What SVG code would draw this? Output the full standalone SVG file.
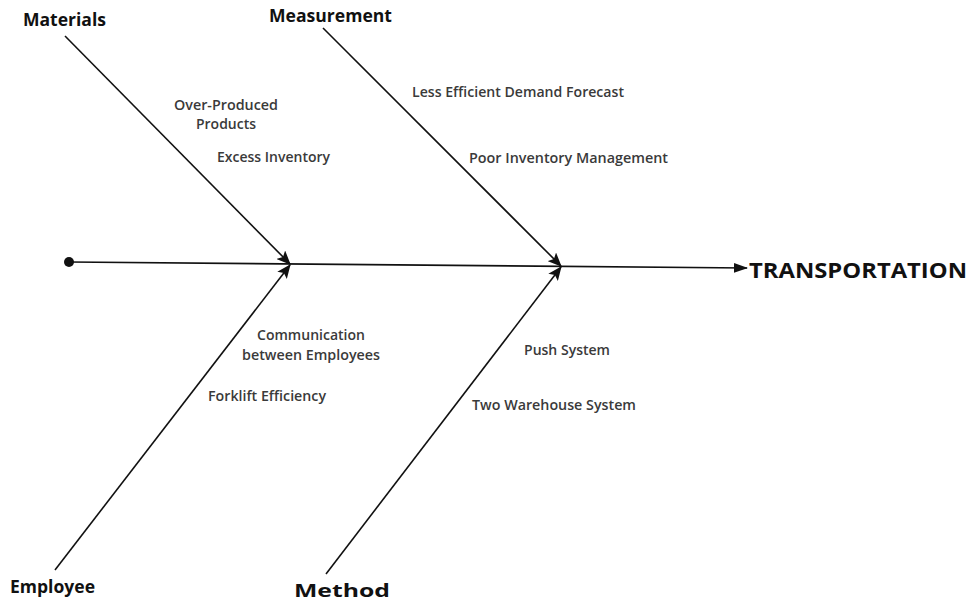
<svg xmlns="http://www.w3.org/2000/svg" width="977" height="604" viewBox="0 0 977 604">
<style>
.cat{font-family:"Open Sans","Liberation Sans",sans-serif;font-weight:bold;font-size:18px;fill:#111}
.cause{font-family:"Open Sans","Liberation Sans",sans-serif;font-weight:600;font-size:13.5px;fill:#3a3a3a}
.ln{stroke:#111;stroke-width:1.6;fill:none}
</style>
<defs>
<marker id="ah" markerUnits="userSpaceOnUse" markerWidth="14" markerHeight="12" viewBox="0 0 14 12" refX="13" refY="6" orient="auto">
<path d="M0,0 L14,6 L0,12 L3,6 Z" fill="#111"/>
</marker>
<marker id="ah2" markerUnits="userSpaceOnUse" markerWidth="14" markerHeight="12" viewBox="0 0 14 12" refX="13" refY="6" orient="auto">
<path d="M0,1 L14,6 L0,11 Z" fill="#111"/>
</marker>
</defs>
<g id="connectors">
<circle cx="69" cy="262" r="5" fill="#111"/>
<line class="ln" x1="69" y1="262" x2="747" y2="268" marker-end="url(#ah2)"/>
<line class="ln" x1="65" y1="36" x2="290" y2="264" marker-end="url(#ah)"/>
<line class="ln" x1="55" y1="570" x2="290" y2="265" marker-end="url(#ah)"/>
<line class="ln" x1="323" y1="28" x2="561" y2="266" marker-end="url(#ah)"/>
<line class="ln" x1="326" y1="574" x2="561" y2="267" marker-end="url(#ah)"/>
</g>
<g id="head"><text class="cat" x="749" y="278" style="font-size:21.5px" textLength="218" lengthAdjust="spacingAndGlyphs">TRANSPORTATION</text></g>
<g id="materials">
<text class="cat" x="23" y="26" textLength="83" lengthAdjust="spacingAndGlyphs">Materials</text>
<text class="cause" x="174" y="110" textLength="104" lengthAdjust="spacingAndGlyphs">Over-Produced</text>
<text class="cause" x="196" y="129" textLength="60" lengthAdjust="spacingAndGlyphs">Products</text>
<text class="cause" x="217" y="162" textLength="113" lengthAdjust="spacingAndGlyphs">Excess Inventory</text>
</g>
<g id="measurement">
<text class="cat" x="269" y="22" textLength="123" lengthAdjust="spacingAndGlyphs">Measurement</text>
<text class="cause" x="412" y="97" textLength="212" lengthAdjust="spacingAndGlyphs">Less Efficient Demand Forecast</text>
<text class="cause" x="469" y="163" textLength="199" lengthAdjust="spacingAndGlyphs">Poor Inventory Management</text>
</g>
<g id="employee">
<text class="cat" x="10" y="593" textLength="85" lengthAdjust="spacingAndGlyphs">Employee</text>
<text class="cause" x="257" y="340" textLength="108" lengthAdjust="spacingAndGlyphs">Communication</text>
<text class="cause" x="242" y="360" textLength="138" lengthAdjust="spacingAndGlyphs">between Employees</text>
<text class="cause" x="208" y="401" textLength="118" lengthAdjust="spacingAndGlyphs">Forklift Efficiency</text>
</g>
<g id="method">
<text class="cat" x="294" y="597" textLength="96" lengthAdjust="spacingAndGlyphs">Method</text>
<text class="cause" x="524" y="355" textLength="86" lengthAdjust="spacingAndGlyphs">Push System</text>
<text class="cause" x="472" y="410" textLength="164" lengthAdjust="spacingAndGlyphs">Two Warehouse System</text>
</g>
</svg>
